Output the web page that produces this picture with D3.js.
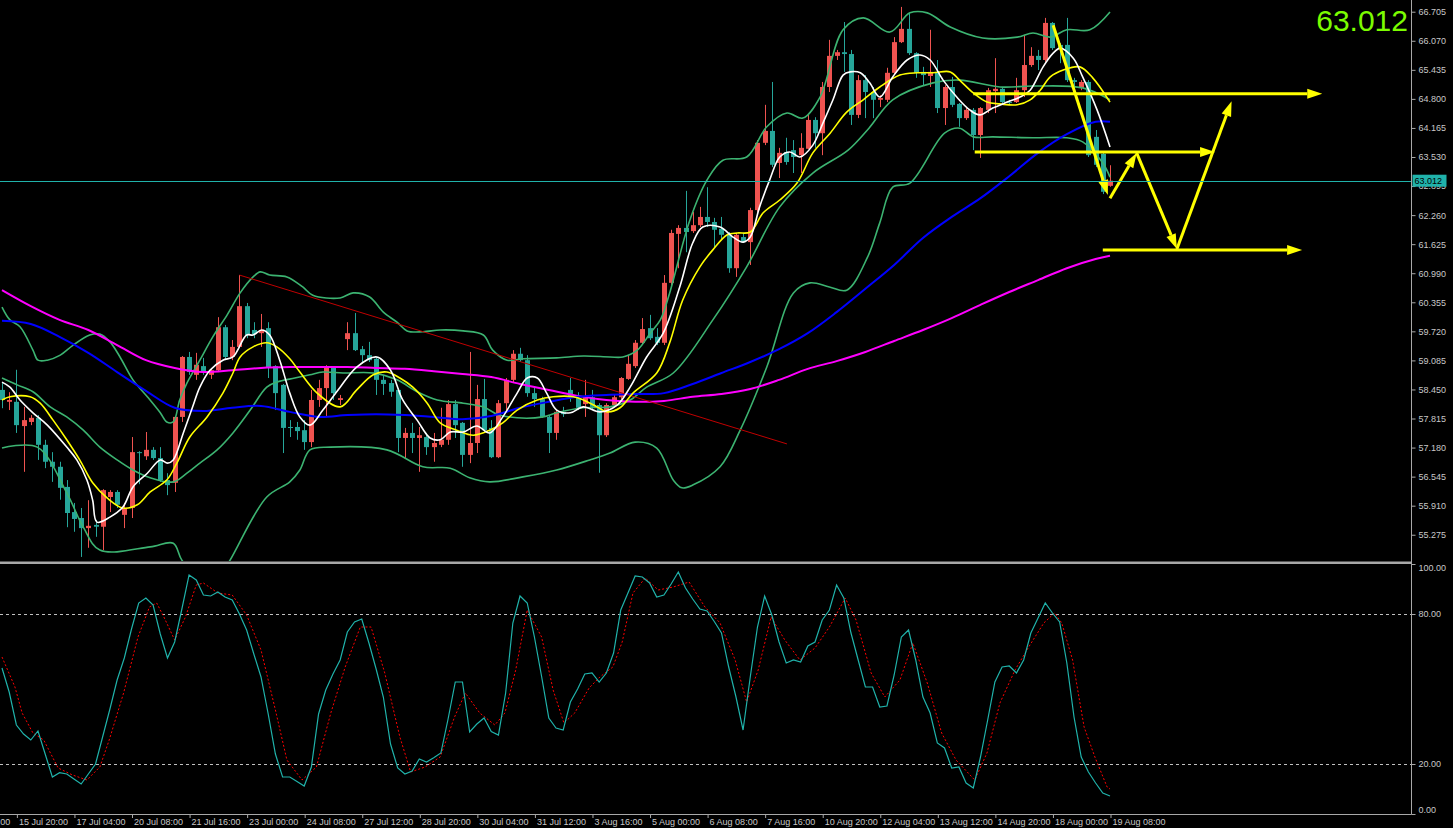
<!DOCTYPE html>
<html><head><meta charset="utf-8">
<script src="https://cdn.jsdelivr.net/npm/d3@7/dist/d3.min.js"></script>
<style>html,body{margin:0;padding:0;background:#000;overflow:hidden}</style>
</head><body><svg id="c" width="1453" height="828"></svg>
<script>
// ---------- DATA (H4 candles, 155 bars) ----------
const openP=[58.44,58.18,58.18,57.65,57.74,57.83,57.24,56.87,56.76,56.32,
55.77,55.64,55.42,55.49,55.45,56.10,56.21,55.71,55.86,57.08,
56.99,57.13,56.95,56.47,56.41,57.85,59.16,58.77,58.96,58.77,
58.87,59.81,59.16,59.38,60.27,59.75,59.68,59.79,58.96,58.55,
57.63,57.63,57.56,57.30,58.22,58.48,58.94,58.22,59.55,59.68,
59.33,59.20,59.12,58.66,58.59,58.44,57.39,57.50,57.39,57.41,
57.19,57.24,57.35,58.13,57.72,57.02,57.28,58.24,57.61,56.97,
58.15,58.66,59.23,59.09,58.37,58.24,57.85,57.50,57.96,58.44,
58.26,58.13,58.28,58.11,57.45,58.11,58.28,58.68,58.96,59.47,
59.79,59.60,59.47,60.78,61.85,61.98,61.91,62.04,62.22,62.11,
61.96,61.83,61.10,61.78,61.67,62.37,63.84,64.10,63.40,63.64,
63.68,63.57,63.71,64.34,64.05,65.06,65.74,65.82,65.78,64.45,
65.21,64.95,64.78,64.78,65.37,66.04,66.33,65.80,65.39,65.30,
65.39,64.60,65.06,64.69,64.38,64.56,64.01,64.56,64.97,65.02,
64.73,64.73,64.99,65.54,65.74,65.65,66.46,65.98,65.98,65.21,
65.04,65.17,63.97,63.60,62.90];
const highP=[58.61,58.39,58.88,58.07,57.89,57.89,57.35,57.08,56.87,56.47,
55.97,55.86,56.03,55.60,56.27,56.25,56.25,55.97,57.41,57.10,
57.52,57.19,57.19,56.62,57.87,59.18,59.27,59.25,59.14,58.92,
60.03,59.86,59.53,60.95,60.34,59.92,60.10,59.92,58.98,58.57,
57.78,57.74,57.78,58.44,58.66,58.98,58.96,58.33,59.92,60.12,
59.40,59.49,59.16,58.77,58.66,58.48,57.61,57.72,57.63,57.50,
57.50,58.05,58.22,58.22,57.74,59.27,58.55,58.68,57.78,58.22,
58.70,59.31,59.36,59.20,58.50,58.29,57.89,58.00,58.07,58.70,
58.39,58.66,58.44,58.15,58.15,58.33,58.72,59.20,59.53,60.01,
60.08,59.79,60.95,61.94,62.04,62.79,62.33,62.44,62.87,62.20,
62.22,61.89,61.87,61.87,62.42,63.90,64.67,65.17,63.73,63.95,
63.90,64.05,64.45,64.40,65.17,66.09,65.87,66.48,65.87,65.32,
65.32,65.06,64.88,65.48,66.15,66.81,66.68,65.82,65.50,66.31,
65.65,65.10,65.28,64.71,64.60,64.60,64.62,65.04,65.69,65.04,
64.78,65.26,66.20,65.93,65.87,66.57,66.48,66.02,66.57,65.26,
65.21,65.21,64.12,63.64,63.35];
const lowP=[58.04,58.00,57.50,56.65,57.67,56.91,56.73,56.43,56.04,55.44,
55.34,54.79,54.99,55.23,54.94,55.77,55.86,55.42,55.64,56.38,
56.91,56.91,56.43,56.14,56.21,57.74,58.77,58.66,58.77,58.68,
58.83,59.09,59.09,59.36,59.57,59.57,59.38,58.70,58.00,57.06,
57.41,57.35,57.13,57.19,58.07,57.85,58.22,58.11,59.31,59.29,
59.05,59.05,58.33,58.33,58.29,57.08,56.95,57.06,56.65,57.02,
56.87,57.19,57.24,57.39,56.76,56.84,57.06,57.50,56.95,56.95,
58.00,58.59,59.05,58.29,58.07,57.83,57.06,57.35,57.85,58.18,
58.00,57.85,58.00,56.63,57.41,58.05,58.24,58.66,58.92,59.42,
59.53,59.42,59.42,60.73,61.10,61.45,61.87,62.00,62.00,61.56,
61.72,61.00,60.91,61.65,61.17,62.33,63.79,63.31,63.07,63.36,
63.18,63.18,63.70,63.73,63.57,64.95,65.65,65.39,64.23,64.38,
64.38,64.38,64.62,64.73,65.32,66.02,65.76,65.26,65.10,65.06,
64.49,64.23,64.62,64.19,64.34,63.68,63.51,64.49,64.49,64.69,
64.67,64.71,64.84,65.50,65.43,65.61,65.87,65.58,65.17,65.04,
64.99,63.53,63.31,62.72,62.88];
const closeP=[58.22,58.22,57.67,57.78,57.83,57.24,56.87,56.76,56.30,55.75,
55.62,55.42,55.47,55.45,56.25,56.21,55.93,55.86,57.08,57.06,
57.13,56.95,56.47,56.36,57.85,59.16,58.83,58.99,58.83,58.87,
59.81,59.16,59.38,60.27,59.64,59.66,59.75,58.94,58.37,57.61,
57.61,57.54,57.30,58.22,58.48,58.94,58.37,58.26,59.68,59.31,
59.20,59.09,58.66,58.57,58.40,57.39,57.50,57.39,57.45,57.19,
57.28,57.35,58.13,57.67,57.02,57.28,58.24,57.56,56.97,58.15,
58.66,59.23,59.09,58.37,58.24,57.85,57.50,57.96,57.91,58.31,
58.05,58.28,58.07,57.45,58.11,58.28,58.70,59.01,59.47,59.77,
59.57,59.47,60.78,61.87,61.98,61.89,62.04,62.22,62.11,61.94,
61.83,61.10,61.83,61.67,62.37,63.84,64.10,63.36,63.62,63.42,
63.53,63.73,64.34,64.05,65.06,65.74,65.82,65.78,64.45,65.21,
64.95,64.78,64.82,65.37,66.04,66.33,65.80,65.37,65.32,65.39,
64.60,65.06,64.67,64.38,64.56,64.01,64.60,64.99,65.02,64.73,
64.71,64.99,65.54,65.74,65.65,66.46,65.91,65.91,65.21,65.17,
65.17,63.57,63.36,62.77,63.012];
const lastPrice=63.012;

// Bollinger bands [barIndex, price]
const bbUpper=[[0,60.25],[1.1,59.97],[2.5,59.82],[4.3,59.31],[5,59.09],[6.3,59.09],[8.1,59.20],[9.9,59.42],[12.2,59.64],[13.6,59.66],[15,59.49],[16.4,59.16],[18.2,58.66],[20.2,58.29],[22,57.94],[22.9,57.74],[23.8,57.74],[24.7,58.22],[25.7,58.59],[27.5,59.09],[29.3,59.60],[31.3,60.08],[33.1,60.56],[34.9,60.91],[35.9,61.02],[37.2,60.95],[39.6,60.91],[41.8,60.69],[43.2,60.51],[47,60.45],[48.8,60.56],[51.1,60.47],[53,60.14],[54.9,59.92],[56.3,59.73],[58.5,59.71],[60.9,59.75],[64.1,59.73],[66.9,59.64],[68.2,59.31],[70.2,59.09],[72.4,59.12],[77.1,59.14],[80.8,59.18],[84.5,59.16],[86.3,59.16],[88.3,59.31],[90.1,59.68],[91.5,59.97],[92.8,60.56],[95.6,62.15],[98,63.03],[100.2,63.46],[103.5,63.53],[106.3,64.19],[109.1,64.49],[111.3,64.38],[113.7,64.84],[116.9,66.31],[119.7,66.57],[123.4,66.26],[126.2,66.68],[128.6,66.68],[131.8,66.37],[136.3,66.13],[141.1,66.15],[143.3,66.24],[145.7,66.15],[148,66.31],[151.2,66.31],[154,66.70]];
const bbMiddle=[[0,58.70],[2.1,58.55],[4.3,58.40],[6.7,58.07],[9,57.85],[11.3,57.56],[13.6,57.19],[16,56.91],[18.2,56.69],[20.6,56.52],[23.8,56.43],[25.7,56.62],[27.5,56.84],[29.9,57.13],[32.1,57.50],[34.5,58.00],[36.8,58.50],[38.2,58.61],[40.7,58.70],[42.8,58.77],[44.6,58.83],[47.4,58.81],[51.6,58.81],[54.9,58.66],[57.7,58.40],[60.5,58.22],[64.1,58.15],[66.9,58.07],[68.8,57.91],[71.6,57.83],[75.2,57.85],[77.1,57.94],[80.8,58.05],[84.5,58.07],[87.3,58.22],[89.6,58.50],[93.3,58.81],[98.8,59.97],[103.5,61.13],[108.1,62.44],[112.7,63.18],[117.6,63.68],[120.5,64.16],[123.8,64.78],[129.4,65.15],[133.1,65.21],[138.7,65.06],[143.3,65.08],[150.2,65.04],[154,64.78]];
const bbLower=[[0,57.17],[4.9,57.19],[9,56.19],[11.3,55.44],[13.6,54.94],[20.6,55.01],[23.8,55.09],[25,54.72],[27.5,54.33],[30,54.29],[31.7,54.72],[36.8,56.10],[40,56.43],[41.4,56.69],[42.8,57.13],[45.6,57.19],[53.5,57.13],[58.5,56.76],[62.3,56.73],[65,56.52],[67.8,56.43],[72.4,56.54],[77.1,56.69],[81.7,56.91],[84.5,57.06],[88,57.30],[91,57.17],[93.3,56.47],[94.5,56.30],[96,56.36],[99.8,56.76],[102.6,57.56],[106.3,58.94],[110,60.56],[112.3,60.78],[115,60.69],[117.4,60.62],[120.3,61.34],[122,62.09],[123.8,62.87],[126.2,62.96],[131,64.05],[133.1,64.16],[135,63.97],[137.7,63.97],[143.3,63.95],[148,63.95],[150.2,63.86],[153,63.40],[154,63.09]];

// slow moving averages, sampled every 4 bars
const maIdx=[0,4,8,12,16,20,24,28,32,36,40,44,48,52,56,60,64,68,72,76,80,84,88,92,96,100,104,108,112,116,120,124,128,132,136,140,144,148,152,154];
const blueMA=[59.95,59.88,59.60,59.25,58.83,58.42,58.05,57.98,58.05,58.09,57.96,57.85,57.89,57.91,57.89,57.85,57.80,57.87,58.05,58.18,58.29,58.33,58.35,58.37,58.57,58.81,59.05,59.33,59.68,60.14,60.65,61.17,61.76,62.22,62.63,63.11,63.62,64.03,64.30,64.30];
const magentaMA=[60.62,60.27,59.97,59.75,59.42,59.09,58.92,58.83,58.87,58.92,58.94,58.94,58.94,58.92,58.90,58.85,58.79,58.72,58.57,58.44,58.31,58.22,58.18,58.20,58.29,58.35,58.46,58.66,58.90,59.07,59.27,59.51,59.75,60.01,60.30,60.58,60.84,61.10,61.30,61.37];

// fast moving averages [barIndex, price]
const whiteMA=[[0,58.61],[1.1,58.50],[2.5,58.22],[4.3,57.94],[6.3,57.67],[9,57.19],[10.4,56.91],[11.8,56.47],[12.6,56.03],[13.2,55.55],[15,55.66],[16.8,55.88],[18.2,56.32],[20.2,56.62],[22,56.91],[23,56.84],[23.8,56.91],[25.2,57.50],[26.5,58.07],[27.5,58.50],[28.9,58.87],[30.7,59.09],[32.1,59.16],[34,59.64],[34.9,59.64],[36.1,59.75],[37.2,59.64],[38.6,59.09],[40,58.37],[41.4,57.85],[42.8,57.67],[44.6,58.00],[47,58.50],[49.3,58.94],[52.1,59.16],[54,58.87],[55.7,58.22],[57.7,57.78],[59.5,57.39],[60.9,57.35],[62.3,57.52],[64.1,57.52],[66,57.65],[67.8,57.50],[69.6,57.85],[71.6,58.37],[73,58.70],[74.4,58.70],[75.7,58.37],[77.1,58.00],[79,57.94],[80.8,58.07],[83.1,57.96],[85.5,58.11],[87.3,58.50],[89.6,59.16],[91.9,59.68],[94.2,60.69],[96,61.65],[97.4,62.00],[99.8,62.00],[101.6,61.78],[103,61.67],[104,61.78],[105.3,62.44],[106.7,63.03],[108.1,63.53],[109.5,63.64],[110.9,63.53],[112.7,63.79],[114.1,64.27],[115.5,64.78],[116.9,65.32],[117.9,65.39],[119.3,65.37],[120.6,65.15],[122,64.84],[123.8,65.28],[125.8,65.65],[127.6,65.76],[129,65.65],[130.8,65.21],[132.7,64.84],[134.5,64.56],[135.9,64.45],[137.7,64.60],[139.7,64.73],[141.5,64.84],[142.9,64.99],[144.7,65.50],[146.1,65.80],[147.1,65.91],[148.9,65.69],[150.2,65.28],[152.2,64.56],[154,63.75]];
const yellowMA=[[0,58.22],[1.1,58.29],[3.9,58.29],[5.3,58.15],[7.1,57.78],[9,57.35],[10.8,56.91],[12.6,56.41],[14.6,56.08],[16.8,55.86],[18.8,55.93],[20.6,56.21],[22.9,56.47],[24.3,56.84],[26.1,57.41],[28.5,57.85],[30.7,58.37],[32.1,58.81],[33.1,59.16],[34.9,59.38],[36.8,59.47],[38.2,59.38],[40,59.12],[41.4,58.83],[43.8,58.37],[47,58.07],[49.3,58.44],[51.6,58.77],[53.5,58.83],[55.3,58.70],[57.1,58.50],[59.1,58.15],[60.9,57.72],[63.2,57.56],[65.5,57.45],[67.8,57.56],[69.6,57.72],[71.6,58.00],[74.4,58.22],[76.6,58.29],[79.4,58.29],[80.8,58.22],[82.7,58.07],[84.1,57.96],[85.9,58.05],[87.7,58.37],[91,58.81],[92.8,59.47],[94.6,60.40],[97,61.13],[98.8,61.50],[100.8,61.83],[102.2,61.87],[104,61.89],[105.8,62.31],[108.1,62.59],[110.5,62.96],[112.7,63.62],[115.1,64.05],[117.4,64.51],[119.7,64.78],[122,65.06],[124.8,65.32],[127.2,65.37],[129.4,65.37],[131.8,65.39],[133.1,65.21],[135,64.93],[136.9,64.73],[138.7,64.69],[141.1,64.67],[142.9,64.78],[144.3,64.99],[145.7,65.28],[147.5,65.43],[149.8,65.50],[151.6,65.26],[154,64.73]];

// red trendline [barIndex, price]
const trendLine=[[33,60.95],[109.1,57.26]];

// yellow drawn arrows: from / to [barIndex, price]
const arrowFrom=[[135.0,64.91],[135.2,63.64],[153.0,61.50],[146.1,66.41],[154.0,62.63],[157.7,63.62],[163.3,61.52]];
const arrowTo  =[[183.5,64.91],[168.6,63.64],[180.7,61.50],[153.7,62.70],[157.7,63.62],[163.3,61.52],[170.9,64.75]];

// stochastic oscillator
const stochMain=[58.4,48.8,35.6,32,29.6,33.2,24,14.8,16.5,16,14,12,16,20,31,42,53.6,62.4,74,84.4,
86.4,83.6,72,62.4,68.8,82,95.6,93.6,87.6,87.2,88.8,86.8,85.6,80,73.6,64,54.8,40,24,14.8,
14.8,13,11.2,18.8,40,49.6,56,61.6,72.8,76.8,78,68.4,58,46.8,28,18.4,16,17.2,22,20.8,
22.5,24.4,38,52.8,52.8,32.8,36,38.4,33,31.6,48.4,76.4,87.2,84.4,70.8,55,38.4,34.4,33.6,44.8,
50,56,56.4,52.8,56.4,64.4,81.6,88.4,95.2,94.8,92.4,86.8,87.6,92,96.8,90.4,86,82,81.2,77,
72.4,58.8,47,33.6,54.8,74.8,87.2,79.6,68.8,60.4,61.6,60.8,67.2,68.8,77.6,81.6,91.6,86.4,72.4,61.6,
50.8,50.8,42.8,43.2,55.6,70.8,73.6,61.6,46.8,40.4,28.4,26.4,18.4,18.8,12.4,10.4,22.8,37.6,52.8,58.8,
59.2,56.4,61.6,72.4,78.4,84.4,80.4,76.8,60.4,38.8,22.8,16.8,12.4,8.4,7.2];
const stochSignal=[[0,62.8],[1.8,50.8],[2.8,40.4],[4.3,32.4],[5.8,29.6],[7.8,18.4],[9.8,15.6],[11.8,13.6],[13.6,18.8],[14.9,29.6],[16.9,48.4],[18.9,70.8],[20.5,82.8],[21.5,84.4],[22.5,78.8],[24,69.6],[25.5,78.8],[27,91.6],[28,92.4],[30,88.4],[32,87.6],[34,79.6],[36,65.6],[38,41.6],[39.6,21.6],[41.7,13.6],[43.7,18.8],[45.7,40.4],[47.7,58.8],[49.8,74.8],[51.3,74.8],[53.2,56.4],[55.3,30.8],[56.8,16.8],[58.8,18.8],[60.9,22.8],[62.9,38.8],[64.4,48.4],[66.4,40.4],[68.5,35.6],[69.9,40.4],[71.4,57.6],[73,81.6],[75,70.8],[76.6,49.6],[78.1,36.4],[79.6,40.4],[81.6,50.4],[83.1,54.8],[84.9,58.8],[86.2,68.8],[87.7,88.4],[89.4,94.4],[91.2,89.6],[93.3,90.8],[95.5,92.8],[97.7,82.8],[99.8,76.4],[101.9,61.6],[103.5,44.8],[105.1,57.6],[106.9,78.8],[108.8,69.6],[110.9,61.6],[113,66.4],[115,74.8],[117.2,86.4],[118.7,77.6],[120.8,56.4],[122.7,46.8],[124.8,53.6],[126.6,68.4],[128.6,52.4],[130.6,32.4],[132.6,21.6],[135.2,13.6],[136.9,24.4],[138.7,44.4],[140.8,57.6],[142.7,66.8],[144.8,76.4],[146.3,80.4],[147.3,76.4],[148.8,61.6],[150.4,34.8],[151.9,22.8],[153.6,10.8],[154,10]];
const stochLevels=[80,20];

// axis ticks
const priceTicks=[66.705,66.070,65.435,64.800,64.165,63.530,62.895,62.260,61.625,60.990,60.355,59.720,59.085,58.450,57.815,57.180,56.545,55.910,55.275];
const stochTicks=[100,80,20,0];
const timeIdx=[-6,2,10,18,26,34,42,50,58,66,74,82,90,98,106,114,122,130,138,146,154];
const timeLabels=["14 Jul 12:00","15 Jul 20:00","17 Jul 04:00","20 Jul 08:00","21 Jul 16:00","23 Jul 00:00","24 Jul 08:00","27 Jul 12:00","28 Jul 20:00","30 Jul 04:00","31 Jul 12:00","3 Aug 16:00","5 Aug 00:00","6 Aug 08:00","7 Aug 16:00","10 Aug 20:00","12 Aug 04:00","13 Aug 12:00","14 Aug 20:00","18 Aug 00:00","19 Aug 08:00"];

// ---------- DRAWING ----------
const W=1453,H=828, AX=1411.5, MAINB=561, SUBT=565, SUBB=814;
const FONT='"Liberation Sans", Arial, sans-serif';
const x=d3.scaleLinear().domain([0,154]).range([2,1110]);
const y=d3.scaleLinear().domain([54.723,66.961]).range([560,0]);
const ys=d3.scaleLinear().domain([0,100]).range([814,564]);

const svg=d3.select('#c');
svg.append('rect').attr('width',W).attr('height',H).attr('fill','#000');
const defs=svg.append('defs');
defs.append('clipPath').attr('id','cm').append('rect').attr('x',0).attr('y',0).attr('width',AX).attr('height',MAINB);
defs.append('clipPath').attr('id','cs').append('rect').attr('x',0).attr('y',SUBT).attr('width',AX).attr('height',SUBB-SUBT);

const gm=svg.append('g').attr('clip-path','url(#cm)');
const smooth=d3.line().x(d=>x(d[0])).y(d=>y(d[1])).curve(d3.curveCatmullRom.alpha(0.5));
const straight=d3.line().x(d=>x(d[0])).y(d=>y(d[1]));

// candles
const BULL='#ef5350', BEAR='#26a69a';
const cand=d3.range(openP.length).map(i=>({i,o:openP[i],h:highP[i],l:lowP[i],c:closeP[i]}));
const cg=gm.append('g');
cg.selectAll('line.w').data(cand).join('line')
  .attr('x1',d=>Math.round(x(d.i))+0.5).attr('x2',d=>Math.round(x(d.i))+0.5)
  .attr('y1',d=>y(d.h)).attr('y2',d=>y(d.l))
  .attr('stroke',d=>d.c>=d.o?BULL:BEAR).attr('stroke-width',1);
cg.selectAll('rect.b').data(cand).join('rect')
  .attr('x',d=>Math.round(x(d.i))-2).attr('width',5)
  .attr('y',d=>y(Math.max(d.o,d.c)))
  .attr('height',d=>Math.max(1,Math.abs(y(d.o)-y(d.c))))
  .attr('fill',d=>d.c>=d.o?BULL:BEAR);

// bands & MAs
const GREEN='#3cb371';
[bbUpper,bbMiddle,bbLower].forEach(a=>gm.append('path').attr('d',smooth(a)).attr('fill','none').attr('stroke',GREEN).attr('stroke-width',1.6));
gm.append('path').attr('d',smooth(maIdx.map((v,k)=>[v,magentaMA[k]]))).attr('fill','none').attr('stroke','#ff00ff').attr('stroke-width',2);
gm.append('path').attr('d',smooth(maIdx.map((v,k)=>[v,blueMA[k]]))).attr('fill','none').attr('stroke','#0000ff').attr('stroke-width',2);
gm.append('path').attr('d',straight(trendLine)).attr('fill','none').attr('stroke','#c00000').attr('stroke-width',1);
gm.append('path').attr('d',smooth(yellowMA)).attr('fill','none').attr('stroke','#ffff00').attr('stroke-width',1.6);
gm.append('path').attr('d',smooth(whiteMA)).attr('fill','none').attr('stroke','#ffffff').attr('stroke-width',1.6);

// last price horizontal line
svg.append('line').attr('x1',0).attr('x2',AX).attr('y1',Math.round(y(lastPrice))+0.5).attr('y2',Math.round(y(lastPrice))+0.5)
  .attr('stroke','#20b2aa').attr('stroke-width',1);

// yellow arrows
const ga=gm.append('g');
arrowFrom.forEach((a,k)=>{
  const b=arrowTo[k];
  const x0=x(a[0]),y0=y(a[1]),x1=x(b[0]),y1=y(b[1]);
  const dx=x1-x0,dy=y1-y0,L=Math.hypot(dx,dy),ux=dx/L,uy=dy/L;
  const hl=15,hw=5,bx=x1-ux*hl,by=y1-uy*hl;
  ga.append('line').attr('x1',x0).attr('y1',y0).attr('x2',bx).attr('y2',by)
    .attr('stroke','#ffff00').attr('stroke-width',3);
  ga.append('path').attr('d',`M${x1},${y1}L${bx-uy*hw},${by+ux*hw}L${bx+uy*hw},${by-ux*hw}Z`).attr('fill','#ffff00');
});

// sub window: stochastic
const gs=svg.append('g').attr('clip-path','url(#cs)');
stochLevels.forEach(v=>gs.append('line').attr('x1',0).attr('x2',AX).attr('y1',ys(v)+0.5).attr('y2',ys(v)+0.5)
  .attr('stroke','#c0c0c0').attr('stroke-width',1).attr('stroke-dasharray','3,3'));
gs.append('path').attr('d',d3.line().x(d=>x(d[0])).y(d=>ys(d[1]))(stochSignal))
  .attr('fill','none').attr('stroke','#ff0000').attr('stroke-width',1).attr('stroke-dasharray','2,2');
gs.append('path').attr('d',d3.line().x((d,i)=>x(i)).y(d=>ys(d))(stochMain))
  .attr('fill','none').attr('stroke','#20b2aa').attr('stroke-width',1.2);

// frame lines
svg.append('rect').attr('x',0).attr('y',561.5).attr('width',AX).attr('height',2.5).attr('fill','#a8a8a8');
svg.append('line').attr('x1',AX).attr('x2',AX).attr('y1',0).attr('y2',SUBB+0.5).attr('stroke','#a8a8a8');
svg.append('line').attr('x1',0).attr('x2',AX).attr('y1',SUBB+0.5).attr('y2',SUBB+0.5).attr('stroke','#a8a8a8');

function styleAxis(g){
  g.select('.domain').remove();
  g.attr('font-family',FONT).attr('font-size',9);
  g.selectAll('.tick line').attr('stroke','#a8a8a8');
  g.selectAll('.tick text').attr('fill','#c8c8c8');
}
const ay=svg.append('g').attr('transform',`translate(${AX},0)`)
  .call(d3.axisRight(y).tickValues(priceTicks).tickFormat(d3.format('.3f')).tickSize(4).tickPadding(3));
styleAxis(ay);
const as=svg.append('g').attr('transform',`translate(${AX},0)`)
  .call(d3.axisRight(ys).tickValues(stochTicks).tickFormat(d3.format('.2f')).tickSize(4).tickPadding(3));
styleAxis(as);
as.selectAll('.tick text').attr('dy',d=>d===100?'0.75em':(d===0?'-0.2em':'0.32em'));
const ax=svg.append('g').attr('transform',`translate(0,${SUBB})`)
  .call(d3.axisBottom(x).tickValues(timeIdx).tickFormat((d,i)=>timeLabels[i]).tickSize(4).tickPadding(1));
styleAxis(ax);
ax.selectAll('.tick line').attr('transform','translate(0.5,0)');
ax.selectAll('.tick text').attr('text-anchor','start').attr('dx',2);

// price tag
const py=y(lastPrice);
svg.append('rect').attr('x',AX+1).attr('y',py-6).attr('width',34).attr('height',12).attr('fill','#20b2aa');
svg.append('text').attr('x',AX+3).attr('y',py).attr('dy','0.35em').attr('font-family',FONT).attr('font-size',9)
  .attr('fill','#000').text(d3.format('.3f')(lastPrice));

// big price
svg.append('text').attr('x',1408).attr('y',31).attr('text-anchor','end').attr('font-family',FONT)
  .attr('font-size',30).attr('fill','#7cfc00').text(d3.format('.3f')(lastPrice));
</script>
</body></html>
